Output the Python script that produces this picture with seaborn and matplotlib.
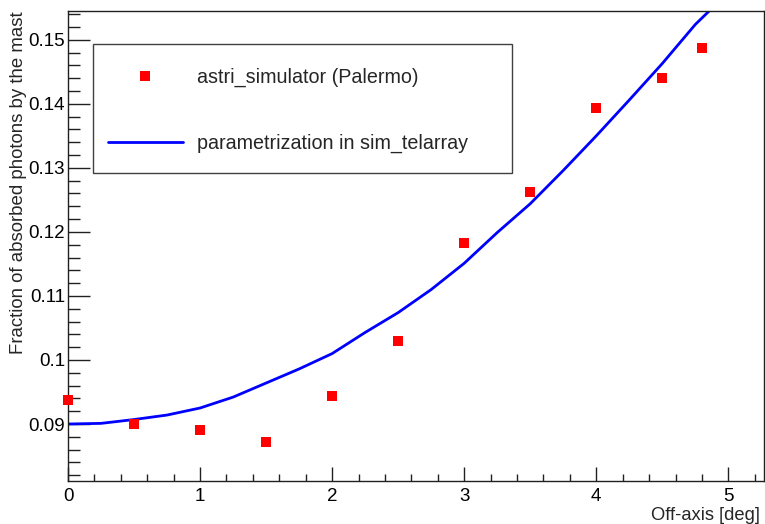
import matplotlib
matplotlib.use("Agg")
import matplotlib.pyplot as plt
from matplotlib.ticker import MultipleLocator, FuncFormatter
from matplotlib.patches import Rectangle
from matplotlib.lines import Line2D
import seaborn as sns
import pandas as pd

# Simulated absorption fractions (red squares)
sim_offaxis = [0.0, 0.5, 1.0, 1.5, 2.0, 2.5, 3.0, 3.5, 4.0, 4.5, 4.8]
sim_fraction = [0.0938, 0.0900, 0.0890, 0.0872, 0.0943, 0.1029,
                0.1182, 0.1263, 0.1393, 0.1441, 0.1487]

# Parametrization curve (blue line)
par_offaxis = [0.0, 0.25, 0.5, 0.75, 1.0, 1.25, 1.5, 1.75, 2.0, 2.25, 2.5,
               2.75, 3.0, 3.25, 3.5, 3.75, 4.0, 4.25, 4.5, 4.75, 4.86]
par_fraction = [0.0900, 0.0901, 0.0907, 0.0914, 0.0925, 0.0942, 0.0964,
                0.0986, 0.1010, 0.1043, 0.1074, 0.1110, 0.1151, 0.1199,
                0.1244, 0.1296, 0.1350, 0.1406, 0.1463, 0.1524, 0.1546]

label_sim = "astri_simulator (Palermo)"
label_par = "parametrization in sim_telarray"
xlabel = "Off-axis [deg]"
ylabel = "Fraction of absorbed photons by the mast"

sns.set_theme(style="ticks")
plt.rcParams["font.family"] = ["Liberation Sans", "DejaVu Sans"]

W, H = 765, 524
fig = plt.figure(figsize=(W / 100, H / 100), dpi=100)
fig.patch.set_facecolor("white")

# axes frame in pixels
ax_l, ax_r, ax_t, ax_b = 68, 764, 11, 481
ax = fig.add_axes([ax_l / W, 1 - ax_b / H, (ax_r - ax_l) / W, (ax_b - ax_t) / H])
ax.set_facecolor("white")

df_sim = pd.DataFrame({"offaxis": sim_offaxis, "fraction": sim_fraction})
df_par = pd.DataFrame({"offaxis": par_offaxis, "fraction": par_fraction})

sns.lineplot(data=df_par, x="offaxis", y="fraction", ax=ax, color="#0000ff",
             linewidth=2.0, sort=True, estimator=None)
sns.scatterplot(data=df_sim, x="offaxis", y="fraction", ax=ax, color="#ff0000",
                marker="s", s=52, linewidth=0, clip_on=False, zorder=5)

ax.set_xlim(0, 5.27)
ax.set_ylim(0.0811, 0.1545)

ax.xaxis.set_major_locator(MultipleLocator(1))
ax.xaxis.set_minor_locator(MultipleLocator(0.2))
ax.yaxis.set_major_locator(MultipleLocator(0.01))
ax.yaxis.set_minor_locator(MultipleLocator(0.002))
ax.yaxis.set_major_formatter(FuncFormatter(lambda v, p: f"{v:g}"))
ax.xaxis.set_major_formatter(FuncFormatter(lambda v, p: f"{v:g}"))

for s in ax.spines.values():
    s.set_visible(True)
    s.set_color("#202020")
    s.set_linewidth(1.0)

ax.tick_params(axis="both", which="both", direction="in", colors="#202020",
               width=1.0, labelsize=13.5, labelcolor="black",
               top=False, right=False)
ax.tick_params(axis="y", which="major", length=15.5, pad=2)
ax.tick_params(axis="y", which="minor", length=8.5)
ax.tick_params(axis="x", which="major", length=10, pad=5)
ax.tick_params(axis="x", which="minor", length=5)

ax.set_xlabel(xlabel, loc="right", fontsize=13.2)
ax.xaxis.set_label_coords(1 - 4 / (ax_r - ax_l), -(507 - ax_b) / (ax_b - ax_t))
ax.set_ylabel(ylabel, loc="top", fontsize=13.4)
ax.yaxis.set_label_coords(-(ax_l - 27) / (ax_r - ax_l), 1.0)

# legend box
box_l, box_t, box_r, box_b = 93, 44, 512, 173
fig.patches.append(Rectangle((box_l / W, 1 - box_b / H), (box_r - box_l) / W,
                             (box_b - box_t) / H, transform=fig.transFigure,
                             facecolor="white", edgecolor="#404040",
                             linewidth=1.0, zorder=10))
handles = [Line2D([], [], linestyle="none", marker="s", markersize=7.3,
                  markerfacecolor="#ff0000", markeredgewidth=0),
           Line2D([], [], color="#0000ff", linewidth=2.0)]
leg = fig.legend(handles, [label_sim, label_par], loc="upper left",
                 bbox_to_anchor=(108 / W, 1 - 67.5 / H), frameon=False,
                 borderpad=0, borderaxespad=0, handlelength=3.8,
                 handletextpad=0.7, labelspacing=2.4, fontsize=14.2)
leg.set_zorder(11)

fig.savefig("out.png", dpi=100, facecolor="white")
